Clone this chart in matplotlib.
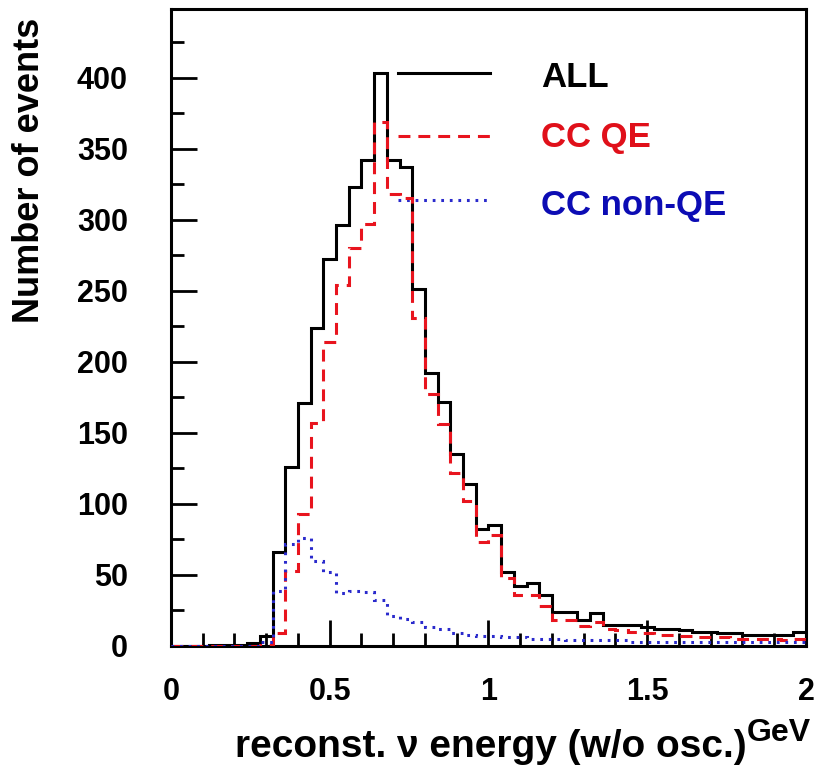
import numpy as np
import matplotlib
matplotlib.use("Agg")
import matplotlib.pyplot as plt
from matplotlib.ticker import MultipleLocator

# reconstructed neutrino energy, 0.04 GeV bins from 0 to 2 GeV
bin_edges = np.linspace(0.0, 2.0, 51)

all_events = [0, 0, 0, 1, 1, 1, 2, 7, 66, 126,
              171, 224, 272, 296, 323, 342, 403, 342, 337, 251,
              192, 172, 135, 114, 82, 85, 52, 42, 44, 36,
              24, 24, 18, 23, 15, 15, 15, 13, 12, 12,
              11, 10, 10, 9, 9, 8, 8, 8, 8, 10]

cc_qe = [0, 0, 0, 0, 0, 0, 0, 1, 9, 53,
         93, 157, 214, 254, 280, 297, 369, 318, 315, 231,
         177, 156, 122, 102, 73, 78, 48, 36, 36, 28,
         18, 18, 14, 17, 12, 11, 10, 9, 8, 8,
         7, 6, 6, 6, 5, 5, 5, 5, 4, 5]

cc_nonqe = [0, 0, 0, 0, 0, 0, 0, 3, 39, 72,
            76, 60, 52, 37, 39, 38, 32, 21, 19, 17,
            13, 12, 9, 8, 7, 7, 6, 6, 5, 5,
            5, 4, 4, 4, 4, 4, 3, 3, 3, 3,
            3, 3, 3, 3, 3, 3, 3, 3, 3, 3]

labels = ["ALL", "CC QE", "CC non-QE"]
line_colors = ["black", "#e8141e", "#2a2acc"]
text_colors = ["black", "#e0101a", "#0c0cb4"]
styles = ["-", (0, (3.9, 2.6)), (0, (0.9, 1.9))]

plt.rcParams["font.family"] = ["Liberation Sans", "DejaVu Sans"]
plt.rcParams["font.weight"] = "bold"

fig = plt.figure(figsize=(8.17, 7.81), dpi=100)
ax = fig.add_axes([0.2093, 0.1729, 0.7772, 0.8152])

lw = 2.2
series = [all_events, cc_qe, cc_nonqe]
for k, vals in enumerate(series):
    ax.stairs(vals, bin_edges, color=line_colors[k], linestyle=styles[k],
              linewidth=lw, zorder=2 + k)

ax.set_xlim(0, 2)
ax.set_ylim(0, 448)

ax.xaxis.set_minor_locator(MultipleLocator(0.1))
ax.yaxis.set_major_locator(MultipleLocator(50))
ax.yaxis.set_minor_locator(MultipleLocator(25))
ax.set_xticks([0, 0.5, 1, 1.5, 2])
ax.set_xticklabels(["0", "0.5", "1", "1.5", "2"])

ax.tick_params(which="both", direction="in", top=False, right=False,
               width=2.0, labelsize=22)
ax.tick_params(which="major", length=19)
ax.tick_params(which="minor", length=9.5)
ax.tick_params(axis="x", which="major", pad=22)
ax.tick_params(axis="y", which="major", pad=31)
for lab in ax.get_xticklabels() + ax.get_yticklabels():
    lab.set_fontweight("bold")
for sp in ax.spines.values():
    sp.set_linewidth(2.2)

# legend keys drawn by hand inside the frame
key_y = [0.900, 0.801, 0.701]
text_y = [0.878, 0.783, 0.677]
for k in range(3):
    ax.plot([0.357, 0.502], [key_y[k], key_y[k]], transform=ax.transAxes,
            color=line_colors[k], linestyle=styles[k], linewidth=lw)
    ax.text(0.583, text_y[k], labels[k], transform=ax.transAxes,
            color=text_colors[k], fontsize=25, fontweight="bold",
            ha="left", va="baseline")

fig.text(0.0367, 0.782, "Number of events", rotation=90, ha="center",
         va="center", fontsize=26, fontweight="bold")
fig.text(0.601, 1 - 757 / 781, "reconst. \u03bd energy (w/o osc.)",
         ha="center", va="baseline", fontsize=28, fontweight="bold")
fig.text(0.992, 1 - 741 / 781, "GeV", ha="right", va="baseline",
         fontsize=23, fontweight="bold")

fig.savefig("out.png", dpi=100)
